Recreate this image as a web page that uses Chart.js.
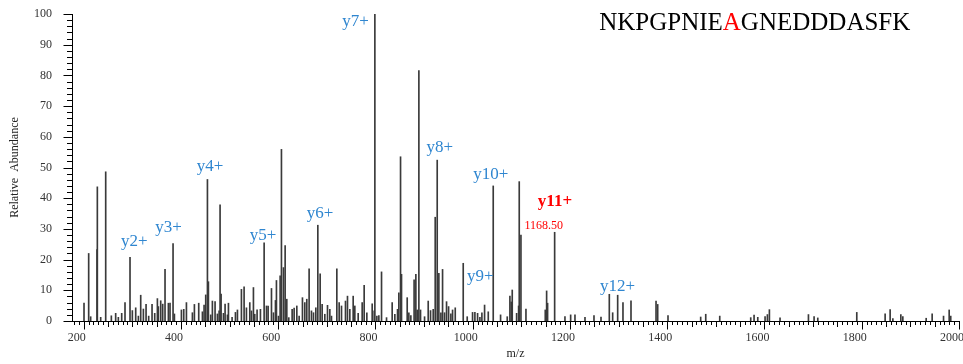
<!DOCTYPE html>
<html><head><meta charset="utf-8">
<script src="https://cdn.jsdelivr.net/npm/chart.js@4.4.1/dist/chart.umd.min.js"></script>
<style>html,body{margin:0;padding:0;background:#fff;}#wrap{width:963px;height:364px;}</style>
</head><body><div id="wrap"><canvas id="c" width="963" height="364"></canvas></div>
<script>
// ---- data (m/z, relative abundance) ----
const mzValues = [200.7,210.3,214.4,227.4,228.1,235.0,245.3,256.9,265.8,271.3,278.2,285.0,295.3,300.1,307.0,312.5,317.3,322.8,328.3,333.7,340.6,346.1,351.6,353.6,358.4,362.5,367.3,374.2,377.6,383.8,386.6,401.0,405.8,411.3,423.6,427.7,436.6,444.2,447.6,451.0,454.5,456.5,461.3,464.7,470.2,475.0,478.5,480.5,482.6,487.4,490.8,495.6,497.7,505.2,512.1,516.2,524.4,529.9,534.7,541.6,545.0,549.1,551.8,556.6,563.5,571.1,575.9,579.3,586.2,590.3,594.4,596.4,600.6,604.0,606.7,610.8,614.3,617.7,621.8,628.7,632.8,638.3,643.1,649.9,654.7,658.8,663.6,668.4,672.6,677.4,681.5,686.3,690.4,695.9,701.4,706.2,709.6,720.6,725.4,730.2,738.4,742.5,747.3,754.2,757.6,764.5,772.7,776.8,782.3,793.3,797.4,798.8,802.9,807.0,812.5,822.8,834.4,839.9,845.4,848.1,851.6,853.6,865.3,868.7,872.8,879.5,883.1,885.9,889.3,892.7,901.0,908.5,913.3,918.8,922.9,927.0,930.4,934.6,938.0,942.1,946.2,950.4,955.1,958.6,964.1,980.5,988.7,999.7,1004.5,1010.0,1014.8,1018.9,1024.4,1032.0,1042.2,1057.3,1071.0,1076.5,1079.3,1081.3,1090.3,1094.4,1095.7,1099.2,1109.5,1149.2,1152.0,1154.0,1168.5,1189.7,1201.4,1210.3,1230.9,1249.4,1263.8,1280.9,1287.8,1298.1,1309.0,1325.5,1377.0,1380.4,1401.6,1468.8,1479.2,1508.0,1571.7,1578.6,1586.2,1601.2,1606.0,1610.1,1632.0,1690.4,1702.0,1709.6,1789.8,1848.1,1858.4,1864.0,1880.4,1884.5,1932.5,1944.8,1968.2,1979.8,1983.0];
const abundance = [5.8,22.0,1.4,23.3,43.7,1.2,48.6,1.7,2.5,1.2,2.5,6.0,20.7,3.4,4.3,1.6,8.4,3.9,5.4,1.6,5.4,2.5,7.3,4.7,6.6,5.5,16.8,5.8,5.8,25.2,2.3,3.6,3.8,6.0,2.7,5.4,5.8,3.0,5.2,8.5,46.1,12.8,2.0,6.5,6.3,2.3,3.3,37.8,8.8,2.5,5.5,2.0,5.8,1.2,2.8,3.6,10.3,11.1,4.3,6.0,3.3,10.9,2.2,3.6,3.8,25.5,4.9,4.9,10.6,2.7,6.7,13.2,1.6,14.7,55.9,17.4,24.6,7.1,1.1,3.8,4.2,4.9,1.6,7.6,6.0,7.1,17.0,3.3,2.7,4.3,31.2,15.4,5.4,2.2,5.1,3.8,1.6,17.0,6.0,4.9,6.5,8.1,3.8,8.1,4.9,2.5,6.0,11.6,2.7,5.6,3.3,100,1.6,1.8,16.0,1.1,6.0,2.2,3.8,9.2,53.5,15.2,7.6,2.7,1.8,13.4,15.2,3.6,81.6,3.6,1.4,6.5,3.4,3.8,33.8,52.4,15.5,2.7,16.8,2.7,6.3,4.7,2.3,3.6,4.3,18.8,1.4,2.8,2.8,2.5,1.2,2.7,5.2,3.0,44.0,2.0,1.4,8.1,6.2,10.1,2.5,4.9,45.4,28.0,3.9,3.6,9.8,5.8,28.9,1.4,2.0,2.0,1.2,1.8,1.3,8.7,2.7,8.4,6.0,6.6,6.5,5.4,1.8,1.3,2.2,1.6,1.1,1.9,1.2,1.4,2.1,3.7,1.0,2.1,1.4,1.0,2.8,2.3,3.7,0.8,2.1,1.4,0.9,2.3,1.6,3.6,1.6];
const xTickValues = [200,400,600,800,1000,1200,1400,1600,1800,2000];
const yTickValues = [0,10,20,30,40,50,60,70,80,90,100];
// ion annotations (text, anchor m/z, anchor abundance)
const ionTexts = ['y2+','y3+','y4+','y5+','y6+','y7+','y8+','y9+','y10+','y12+'];
const ionMz    = [303.9,374.3,459.9,568.9,686.2,759.1,932.5,1015.8,1037.4,1297.7];
const ionAbund = [25.9,30.3,50.3,27.9,35.1,97.5,56.4,14.4,47.6,11.1];
const highlightIon = {text:'y11+', mz:1169.1, abund:38.9};
const highlightMass = {text:'1168.50', mz:1145.9, abund:31.1};
const peptideParts = ['NKPGPNIE','A','GNEDDDASFK'];
const peptideAnchor = {mz:1580, abund:96.8};

const SERIF = '"Liberation Serif","Times New Roman",serif';
const BLUE = '#2f86d0', RED = '#ff0000';

const decor = {
  id:'decor',
  afterDraw(chart){
    const {ctx, scales:{x, y}} = chart;
    ctx.save();
    ctx.strokeStyle = '#000'; ctx.lineWidth = 1;
    const yAxis = Math.round(y.getPixelForValue(0)) + 0.5;
    for (let v = 180; v <= 2000; v += 10) {
      const px = Math.round(x.getPixelForValue(v)) + 0.5;
      const len = v % 200 === 0 ? 8 : (v % 50 === 0 ? 5.5 : 3.5);
      ctx.beginPath(); ctx.moveTo(px, yAxis); ctx.lineTo(px, yAxis + len); ctx.stroke();
    }
    const xAxis = Math.round(x.left) + 0.5;
    for (let v = 0; v <= 100; v += 2) {
      const py = Math.round(y.getPixelForValue(v)) + 0.5;
      const len = v % 10 === 0 ? 9 : 5.5;
      ctx.beginPath(); ctx.moveTo(xAxis, py); ctx.lineTo(xAxis - len, py); ctx.stroke();
    }
    ctx.textAlign = 'center'; ctx.textBaseline = 'middle';
    ctx.font = '17px ' + SERIF; ctx.fillStyle = BLUE;
    ionTexts.forEach((t, i) => ctx.fillText(t, x.getPixelForValue(ionMz[i]), y.getPixelForValue(ionAbund[i])));
    ctx.font = 'bold 17px ' + SERIF; ctx.fillStyle = RED;
    ctx.fillText(highlightIon.text, x.getPixelForValue(highlightIon.mz), y.getPixelForValue(highlightIon.abund));
    ctx.font = '12px ' + SERIF;
    ctx.fillText(highlightMass.text, x.getPixelForValue(highlightMass.mz), y.getPixelForValue(highlightMass.abund));
    ctx.font = '25px ' + SERIF; ctx.textAlign = 'left';
    const widths = peptideParts.map(p => ctx.measureText(p).width);
    let cx = x.getPixelForValue(peptideAnchor.mz) - widths.reduce((a,b)=>a+b,0)/2;
    const cy = y.getPixelForValue(peptideAnchor.abund);
    peptideParts.forEach((p, i) => { ctx.fillStyle = i === 1 ? RED : '#000'; ctx.fillText(p, cx, cy); cx += widths[i]; });
    ctx.restore();
  }
};

new Chart(document.getElementById('c'), {
  type:'bar',
  data:{ datasets:[{ data: mzValues.map((m,i)=>({x:m, y:abundance[i]})), backgroundColor:'#3a3a3a', borderWidth:0, barThickness:1 }]},
  options:{
    responsive:false, animation:false,
    layout:{padding:{left:0,right:4,top:14,bottom:0}},
    plugins:{legend:{display:false}, tooltip:{enabled:false}},
    scales:{
      x:{ type:'linear', min:176, max:2000, offset:false,
        afterBuildTicks: s => { s.ticks = xTickValues.map(v=>({value:v})); },
        afterFit: s => { s.height = 43; s.paddingLeft = 0; s.paddingRight = 0; s.paddingTop = 0; s.paddingBottom = 0; },
        grid:{display:false, drawTicks:false}, border:{display:true, color:'#000', width:1},
        ticks:{ padding:10, labelOffset:-7, maxRotation:0, autoSkip:false, color:'#333', font:{family:SERIF, size:12}, callback: v => String(v) },
        title:{ display:true, text:'m/z', color:'#222', font:{family:SERIF, size:12}, padding:{top:0,bottom:3} }
      },
      y:{ min:0, max:100,
        afterBuildTicks: s => { s.ticks = yTickValues.map(v=>({value:v})); },
        afterFit: s => { s.width = 72; s.paddingTop = 0; s.paddingBottom = 0; s.paddingLeft = 0; s.paddingRight = 0; },
        grid:{display:false, drawTicks:false}, border:{display:true, color:'#000', width:1},
        ticks:{ padding:20, color:'#333', font:{family:SERIF, size:12}, callback: v => String(v) },
        title:{ display:true, text:'Relative  Abundance', color:'#222', font:{family:SERIF, size:12}, padding:{top:8,bottom:0} }
      }
    }
  },
  plugins:[decor]
});
</script></body></html>
